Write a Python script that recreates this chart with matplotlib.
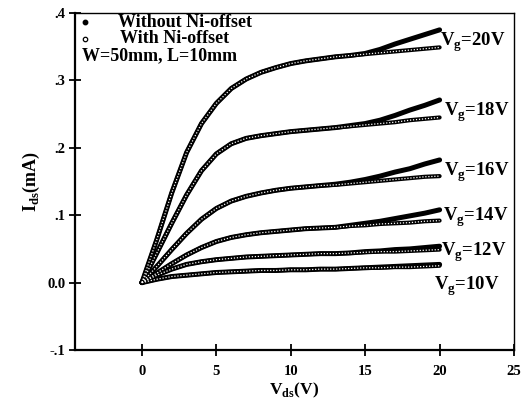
import matplotlib
matplotlib.use("Agg")
import matplotlib.pyplot as plt

plt.rcParams['font.family'] = ['Liberation Serif', 'DejaVu Serif']
plt.rcParams['font.weight'] = 'bold'
plt.rcParams['mathtext.fontset'] = 'custom'
plt.rcParams['mathtext.rm'] = 'Liberation Serif:bold'
plt.rcParams['mathtext.bf'] = 'Liberation Serif:bold'

vds = [0, 1, 2, 3, 4, 5, 6, 7, 8, 9, 10, 11, 12, 13, 14, 15, 16, 17, 18, 19, 20]

# With Ni-offset (open circles), Ids in mA
with_20 = [0, 0.064, 0.133, 0.193, 0.236, 0.266, 0.288, 0.302, 0.312, 0.319, 0.325, 0.329, 0.332, 0.335, 0.337, 0.339, 0.341, 0.343, 0.345, 0.347, 0.349]
with_18 = [0, 0.044, 0.088, 0.130, 0.166, 0.191, 0.206, 0.214, 0.218, 0.221, 0.224, 0.226, 0.228, 0.230, 0.232, 0.234, 0.236, 0.238, 0.241, 0.243, 0.245]
with_16 = [0, 0.024, 0.049, 0.073, 0.094, 0.110, 0.121, 0.128, 0.133, 0.137, 0.140, 0.142, 0.144, 0.145, 0.147, 0.149, 0.151, 0.153, 0.155, 0.157, 0.158]
with_14 = [0, 0.014, 0.028, 0.041, 0.052, 0.061, 0.067, 0.071, 0.074, 0.076, 0.078, 0.080, 0.081, 0.082, 0.084, 0.085, 0.087, 0.088, 0.089, 0.091, 0.092]
with_12 = [0, 0.011, 0.020, 0.027, 0.031, 0.034, 0.036, 0.038, 0.039, 0.040, 0.041, 0.042, 0.043, 0.043, 0.044, 0.045, 0.046, 0.046, 0.047, 0.048, 0.049]
with_10 = [0, 0.005, 0.009, 0.011, 0.013, 0.015, 0.016, 0.017, 0.018, 0.018, 0.019, 0.019, 0.020, 0.020, 0.021, 0.022, 0.022, 0.023, 0.023, 0.024, 0.025]

# Without Ni-offset (filled dots), Ids in mA
wo_20 = [0, 0.064, 0.133, 0.193, 0.236, 0.266, 0.288, 0.302, 0.312, 0.319, 0.325, 0.329, 0.332, 0.335, 0.337, 0.340, 0.346, 0.354, 0.361, 0.368, 0.375]
wo_18 = [0, 0.044, 0.088, 0.130, 0.166, 0.191, 0.206, 0.214, 0.218, 0.221, 0.224, 0.226, 0.228, 0.230, 0.233, 0.236, 0.241, 0.248, 0.256, 0.263, 0.271]
wo_16 = [0, 0.024, 0.049, 0.073, 0.094, 0.110, 0.121, 0.128, 0.133, 0.137, 0.140, 0.142, 0.144, 0.146, 0.149, 0.153, 0.158, 0.164, 0.169, 0.176, 0.182]
wo_14 = [0, 0.014, 0.028, 0.041, 0.052, 0.061, 0.067, 0.071, 0.074, 0.076, 0.078, 0.080, 0.081, 0.082, 0.085, 0.088, 0.091, 0.095, 0.099, 0.103, 0.108]
wo_12 = [0, 0.011, 0.020, 0.027, 0.031, 0.034, 0.036, 0.038, 0.039, 0.040, 0.041, 0.042, 0.043, 0.043, 0.044, 0.046, 0.047, 0.049, 0.050, 0.052, 0.054]
wo_10 = [0, 0.005, 0.009, 0.011, 0.013, 0.015, 0.016, 0.017, 0.018, 0.018, 0.019, 0.019, 0.020, 0.020, 0.021, 0.022, 0.023, 0.024, 0.025, 0.026, 0.027]

with_series = [with_20, with_18, with_16, with_14, with_12, with_10]
wo_series = [wo_20, wo_18, wo_16, wo_14, wo_12, wo_10]

vg_labels = ["20", "18", "16", "14", "12", "10"]
vg_label_x = [20.0, 20.3, 20.3, 20.2, 20.1, 19.6]
vg_label_y = [0.356, 0.253, 0.164, 0.097, 0.045, -0.005]

xticks = [0, 5, 10, 15, 20, 25]
xtick_labels = ["0", "5", "10", "15", "20", "25"]
yticks = [-0.1, 0.0, 0.1, 0.2, 0.3, 0.4]
ytick_labels = ["-.1", "0.0", ".1", ".2", ".3", ".4"]

fig = plt.figure(figsize=(5.28, 4.03), dpi=100)
ax = fig.add_axes([0.142, 0.1315, 0.8315, 0.8362])

for y in wo_series:
    ax.plot(vds, y, color='black', lw=3.6, solid_capstyle='round', solid_joinstyle='round', zorder=2)
for y in with_series:
    ax.plot(vds, y, color='black', lw=3.0, solid_capstyle='round', solid_joinstyle='round', zorder=3)
    ax.plot(vds, y, color='white', lw=0.9, linestyle=(0, (1.0, 1.4)), zorder=4)

for lab, lx, ly in zip(vg_labels, vg_label_x, vg_label_y):
    ax.text(lx, ly, r"V$_{\mathrm{g}}$=" + lab + "V", fontsize=13.5, fontweight='bold',
            va='center', ha='left')

ax.set_xlim(-4.5, 25)
ax.set_ylim(-0.1, 0.4)
ax.set_xticks(xticks)
ax.set_xticklabels(xtick_labels)
ax.set_yticks(yticks)
ax.set_yticklabels(ytick_labels)
ax.tick_params(direction='inout', length=8, width=1.3, labelsize=10.5)
ax.tick_params(axis='y', pad=3)
ax.tick_params(axis='x', pad=7)
for side in ['left', 'bottom']:
    ax.spines[side].set_linewidth(1.6)
for side in ['top', 'right']:
    ax.spines[side].set_linewidth(1.0)

ax.set_xlabel(r"V$_{\mathrm{ds}}$(V)", fontsize=12.5, fontweight='bold', labelpad=2)
ax.set_ylabel(r"I$_{\mathrm{ds}}$(mA)", fontsize=13, fontweight='bold', labelpad=4)

# legend-like annotation
ax.plot([0.0228], [0.973], marker='o', ms=3.2, color='black', transform=ax.transAxes, clip_on=False)
ax.plot([0.0228], [0.923], marker='o', ms=3.2, mfc='white', mec='black', mew=0.9,
        transform=ax.transAxes, clip_on=False)
ax.text(0.098, 0.973, "Without Ni-offset", transform=ax.transAxes, fontsize=13,
        fontweight='bold', va='center', ha='left')
ax.text(0.1025, 0.923, "With Ni-offset", transform=ax.transAxes, fontsize=13,
        fontweight='bold', va='center', ha='left')
ax.text(0.016, 0.872, "W=50mm, L=10mm", transform=ax.transAxes, fontsize=13,
        fontweight='bold', va='center', ha='left')

fig.savefig("out.png", dpi=100)
